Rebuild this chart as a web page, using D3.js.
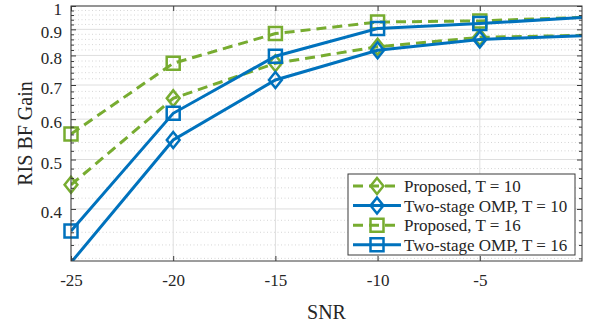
<!DOCTYPE html>
<html>
<head>
<meta charset="utf-8">
<script src="https://cdn.jsdelivr.net/npm/d3@7"></script>
<style>
  html, body { margin: 0; padding: 0; background: #fff; }
  svg { display: block; }
  text { font-family: "Liberation Serif", "Times New Roman", serif; fill: #262626; }
</style>
</head>
<body>
<svg id="chart" width="600" height="325"></svg>
<script>
// ---- data ----
const snr = [-25, -20, -15, -10, -5, 0, 5];
const proposedT10 = [0.446, 0.659, 0.772, 0.832, 0.868, 0.876, 0.885];
const ompT10      = [0.314, 0.546, 0.716, 0.819, 0.860, 0.874, 0.888];
const proposedT16 = [0.561, 0.772, 0.883, 0.930, 0.935, 0.950, 0.965];
const ompT16      = [0.362, 0.616, 0.797, 0.903, 0.924, 0.949, 0.975];
const seriesNames = ["Proposed, T = 10", "Two-stage OMP, T = 10", "Proposed, T = 16", "Two-stage OMP, T = 16"];
const xTicks = [-25, -20, -15, -10, -5];
const yTicks = [0.4, 0.5, 0.6, 0.7, 0.8, 0.9, 1];
const yTickLabels = ["0.4", "0.5", "0.6", "0.7", "0.8", "0.9", "1"];
const xLabel = "SNR";
const yLabel = "RIS BF Gain";

const green = "#77AC30", blue = "#0072BD";
const series = [
  { name: seriesNames[0], values: proposedT10, color: green, dash: "10,6", marker: "diamond" },
  { name: seriesNames[1], values: ompT10, color: blue, dash: null, marker: "diamond" },
  { name: seriesNames[2], values: proposedT16, color: green, dash: "10,6", marker: "square" },
  { name: seriesNames[3], values: ompT16, color: blue, dash: null, marker: "square" }
];

const L = 71, R = 582, T = 6, B = 261;
const x = d3.scaleLinear().domain([-25, 0]).range([L, R]);
const y = d3.scaleLog().domain([Math.pow(10, -0.5), 1]).range([B, T]);

const svg = d3.select("#chart");

// minor y values (step 0.02)
const yMinor = d3.range(32, 100, 2).map(v => v / 100).filter(v => Math.abs(v * 10 - Math.round(v * 10)) > 1e-6 && v >= y.domain()[0]);

// grid
const grid = svg.append("g");
grid.selectAll(".ymin").data(yMinor).join("line")
  .attr("x1", L).attr("x2", R).attr("y1", d => y(d)).attr("y2", d => y(d))
  .attr("stroke", "#cbcbcb").attr("stroke-width", 0.8).attr("stroke-dasharray", "1,2.5");
grid.selectAll(".ymaj").data(yTicks).join("line")
  .attr("x1", L).attr("x2", R).attr("y1", d => y(d)).attr("y2", d => y(d))
  .attr("stroke", "#dedede").attr("stroke-width", 1);
grid.selectAll(".xmaj").data(xTicks).join("line")
  .attr("y1", T).attr("y2", B).attr("x1", d => x(d)).attr("x2", d => x(d))
  .attr("stroke", "#dedede").attr("stroke-width", 1);

// clip
svg.append("clipPath").attr("id", "clip").append("rect")
  .attr("x", L).attr("y", T).attr("width", R - L).attr("height", B - T);

const lineGen = d3.line().x(d => x(d[0])).y(d => y(d[1]));

function markerPath(type, cx, cy) {
  if (type === "square") {
    const h = 6.5;
    return `M${cx - h},${cy - h}H${cx + h}V${cy + h}H${cx - h}Z`;
  }
  const h = 8;
  return `M${cx},${cy - h}L${cx + h * 0.8},${cy}L${cx},${cy + h}L${cx - h * 0.8},${cy}Z`;
}

const plot = svg.append("g");
series.forEach(s => {
  const pts = snr.map((v, i) => [v, s.values[i]]);
  plot.append("path").datum(pts)
    .attr("clip-path", "url(#clip)")
    .attr("d", lineGen)
    .attr("fill", "none").attr("stroke", s.color).attr("stroke-width", 3)
    .attr("stroke-dasharray", s.dash);
  const vis = pts.filter(p => p[0] >= -25 && p[0] < 0 && p[1] >= y.domain()[0] && p[1] <= 1);
  plot.selectAll(null).data(vis).join("path")
    .attr("d", p => markerPath(s.marker, x(p[0]), y(p[1])))
    .attr("fill", "none").attr("stroke", s.color).attr("stroke-width", 2.5);
});

// axes (ticks inward)
const axColor = "#3a3a3a";
const yMajorAxis = svg.append("g").attr("transform", `translate(${L},0)`)
  .call(d3.axisLeft(y).tickValues(yTicks).tickFormat((d, i) => yTickLabels[i]).tickSize(-5).tickPadding(9));
const yMinorAxisL = svg.append("g").attr("transform", `translate(${L},0)`)
  .call(d3.axisLeft(y).tickValues(yMinor).tickFormat("").tickSize(-3));
const yMajorAxisR = svg.append("g").attr("transform", `translate(${R},0)`)
  .call(d3.axisRight(y).tickValues(yTicks).tickFormat("").tickSize(-5));
const yMinorAxisR = svg.append("g").attr("transform", `translate(${R},0)`)
  .call(d3.axisRight(y).tickValues(yMinor).tickFormat("").tickSize(-3));
const xAxis = svg.append("g").attr("transform", `translate(0,${B})`)
  .call(d3.axisBottom(x).tickValues(xTicks).tickFormat(d3.format("d")).tickSize(-5).tickPadding(13));
const xAxisTop = svg.append("g").attr("transform", `translate(0,${T})`)
  .call(d3.axisTop(x).tickValues(xTicks).tickFormat("").tickSize(-5));

svg.selectAll(".domain").remove();
svg.selectAll(".tick line").attr("stroke", axColor).attr("stroke-width", 1);
svg.selectAll(".tick text").attr("font-family", "Liberation Serif, serif").attr("font-size", 17).attr("fill", "#262626");
yMajorAxis.selectAll(".tick text").attr("dy", "0.5em");
xAxis.selectAll(".tick text").text(d => String(d).replace("−", "-"));

svg.append("rect").attr("x", L).attr("y", T).attr("width", R - L).attr("height", B - T)
  .attr("fill", "none").attr("stroke", axColor).attr("stroke-width", 1);

// labels
svg.append("text").attr("x", (L + R) / 2).attr("y", 319).attr("text-anchor", "middle")
  .attr("font-size", 20).text(xLabel);
svg.append("text").attr("transform", `translate(32,${(T + B) / 2}) rotate(-90)`).attr("text-anchor", "middle")
  .attr("font-size", 20).text(yLabel);

// legend
const lg = svg.append("g");
lg.append("rect").attr("x", 348).attr("y", 174).attr("width", 227).attr("height", 81)
  .attr("fill", "#fff").attr("stroke", axColor).attr("stroke-width", 1);
series.forEach((s, i) => {
  const cy = 186 + i * 19.6;
  lg.append("line").attr("x1", 353).attr("x2", 401).attr("y1", cy).attr("y2", cy)
    .attr("stroke", s.color).attr("stroke-width", 3).attr("stroke-dasharray", s.dash);
  lg.append("path").attr("d", markerPath(s.marker, 377, cy))
    .attr("fill", "none").attr("stroke", s.color).attr("stroke-width", 2.5);
  lg.append("text").attr("x", 404).attr("y", cy + 6).attr("font-size", 17).text(s.name);
});
</script>
</body>
</html>
